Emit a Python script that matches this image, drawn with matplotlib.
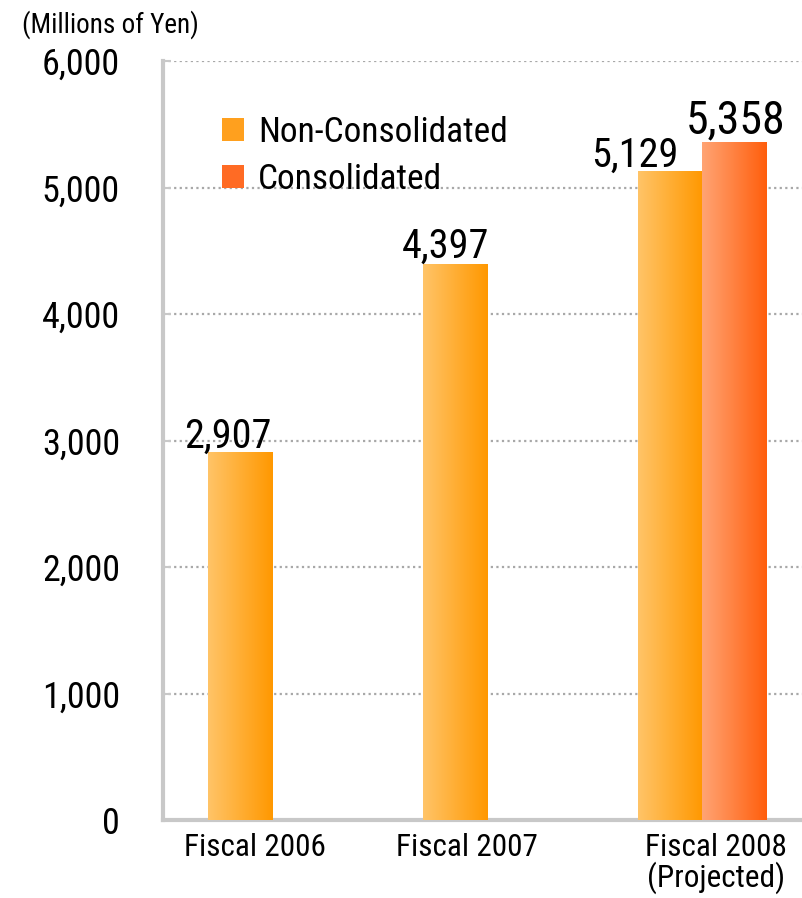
import numpy as np
import matplotlib.pyplot as plt
from matplotlib.patches import Patch
from matplotlib.colors import LinearSegmentedColormap

plt.rcParams['font.family'] = ['Roboto Condensed', 'IPAPGothic', 'DejaVu Sans']

# ---------- data ----------
categories = ["Fiscal 2006", "Fiscal 2007", "Fiscal 2008\n(Projected)"]
non_consolidated = [2907, 4397, 5129]
consolidated = [None, None, 5358]
yticks = [0, 1000, 2000, 3000, 4000, 5000, 6000]
series_names = ["Non-Consolidated", "Consolidated"]

# ---------- styling ----------
grad_non = ("#FFC468", "#FF9800")
grad_con = ("#FFA474", "#FF5E0C")
legend_non = "#FFA01E"
legend_con = "#FF6B24"
grid_col = "#A8A8A8"
spine_col = "#C8C8C8"

W, H = 802, 898
fig = plt.figure(figsize=(W / 100, H / 100), dpi=100)
ax = fig.add_axes([163 / W, 1 - 820 / H, (W - 163) / W, (820 - 61) / H])

x = np.arange(len(categories))
bw = 0.298


def gradient_bars(bars, cols):
    cmap = LinearSegmentedColormap.from_list("g", cols)
    grad = np.linspace(0, 1, 256).reshape(1, -1)
    for b in bars:
        b.set_facecolor("none")
        b.set_edgecolor("none")
        im = ax.imshow(grad, cmap=cmap, aspect="auto", zorder=3,
                       extent=[b.get_x(), b.get_x() + b.get_width(), 0, b.get_height()])
        im.set_clip_path(b)


bars_n = ax.bar(x - bw / 2, non_consolidated, bw, zorder=3)
gradient_bars(bars_n, grad_non)
con_idx = [i for i, v in enumerate(consolidated) if v is not None]
bars_c = ax.bar(x[con_idx] + bw / 2, [consolidated[i] for i in con_idx], bw, zorder=3)
gradient_bars(bars_c, grad_con)

# value labels (offsets in points to mimic the original placement)
offs_n = [(-9, 3.5), (-7, 4), (-25, 3)]
for b, v, (dx, dy) in zip(bars_n, non_consolidated, offs_n):
    ax.annotate(f"{v:,}", xy=(b.get_x() + b.get_width() / 2, v), xytext=(dx, dy),
                textcoords="offset points", ha="center", va="baseline", fontsize=29)
for b, i in zip(bars_c, con_idx):
    v = consolidated[i]
    ax.annotate(f"{v:,}", xy=(b.get_x() + b.get_width() / 2, v), xytext=(1, 6.5),
                textcoords="offset points", ha="center", va="baseline", fontsize=33)

ax.set_xlim(-0.507, 2.465)
ax.set_ylim(0, 6000)
ax.set_yticks(yticks)
ax.set_yticklabels([f"{t:,}" for t in yticks], fontsize=26)
ax.tick_params(axis="y", direction="in", length=6, width=1.5, color=spine_col, pad=31)

ax.set_xticks([-0.079, 0.907, 2.065])
ax.set_xticklabels(categories, fontsize=22.5, linespacing=1.0)
ax.tick_params(axis="x", length=0, pad=9)

for t in yticks[1:]:
    ax.axhline(t, color=grid_col, lw=1.6, ls=(0, (1, 1.5)), zorder=1)

for s in ["top", "right"]:
    ax.spines[s].set_visible(False)
for s in ["left", "bottom"]:
    ax.spines[s].set_color(spine_col)
    ax.spines[s].set_linewidth(3)

handles = [Patch(facecolor=legend_non), Patch(facecolor=legend_con)]
ax.legend(handles, series_names, loc="upper left", bbox_to_anchor=(0.092, 0.927),
          frameon=False, fontsize=25.5, handlelength=0.62, handleheight=0.62,
          handletextpad=0.4, labelspacing=0.37, borderpad=0, borderaxespad=0)

fig.text(22 / W, 1 - 25 / H, "(Millions of Yen)", fontsize=19.5, va="center", ha="left")

fig.savefig("out.png", dpi=100)
